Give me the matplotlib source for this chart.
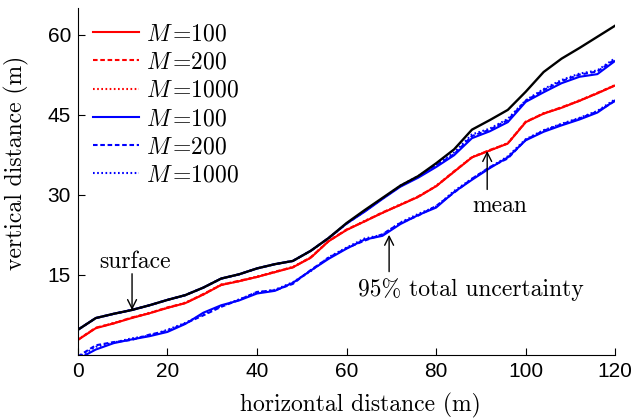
import numpy as np
import matplotlib
matplotlib.use("Agg")
import matplotlib.pyplot as plt

plt.rcParams['mathtext.fontset'] = 'cm'
plt.rcParams['axes.unicode_minus'] = False

# horizontal position (m)
x = [0, 4, 8, 12, 16, 20, 24, 28, 32, 36, 40, 44, 48, 52, 56, 60,
     64, 68, 72, 76, 80, 84, 88, 92, 96, 100, 104, 108, 112, 116, 120]

surface = [4.7, 6.9, 7.7, 8.4, 9.3, 10.3, 11.2, 12.6, 14.3, 15.1, 16.2, 17.0, 17.6, 19.5, 21.9, 24.7,
           27.1, 29.4, 31.7, 33.5, 35.9, 38.5, 42.2, 44.0, 45.9, 49.3, 53.0, 55.5, 57.5, 59.6, 61.7]

mean_100 = [2.8, 5.0, 5.9, 6.9, 7.8, 8.8, 9.7, 11.3, 13.1, 13.8, 14.6, 15.5, 16.4, 18.2, 21.3, 23.4,
            25.0, 26.6, 28.1, 29.6, 31.6, 34.3, 37.0, 38.3, 39.6, 43.6, 45.2, 46.3, 47.6, 49.0, 50.5]
mean_200 = [2.8, 5.1, 5.9, 7.0, 7.8, 8.9, 9.7, 11.4, 13.1, 13.9, 14.6, 15.6, 16.4, 18.3, 21.3, 23.5,
            25.0, 26.7, 28.1, 29.7, 31.6, 34.4, 37.0, 38.4, 39.6, 43.7, 45.2, 46.4, 47.6, 49.1, 50.5]
mean_1000 = [2.9, 5.0, 6.0, 6.9, 7.9, 8.8, 9.8, 11.3, 13.2, 13.8, 14.7, 15.5, 16.5, 18.2, 21.4, 23.4,
             25.1, 26.6, 28.2, 29.6, 31.7, 34.3, 37.1, 38.3, 39.7, 43.6, 45.3, 46.3, 47.7, 49.0, 50.6]

lower_100 = [-0.8, 1.0, 2.2, 2.9, 3.5, 4.3, 5.8, 7.9, 9.3, 10.2, 11.5, 12.0, 13.5, 15.8, 18.0, 19.9,
             21.6, 22.3, 24.5, 26.2, 27.6, 30.5, 32.8, 35.0, 37.0, 40.2, 41.8, 43.0, 44.1, 45.4, 47.7]
lower_200 = [-0.3, 1.8, 2.4, 2.8, 3.8, 4.5, 5.9, 7.4, 9.0, 10.3, 11.8, 12.1, 13.3, 15.9, 18.2, 20.0,
             21.4, 22.6, 24.7, 26.1, 27.9, 30.4, 33.0, 35.2, 36.8, 40.3, 42.0, 43.2, 44.3, 45.6, 47.6]
lower_1000 = [-0.5, 1.5, 2.3, 3.1, 3.6, 4.7, 6.0, 7.6, 9.1, 10.4, 11.7, 12.2, 13.6, 15.7, 18.3, 20.1,
              21.8, 22.5, 24.8, 26.4, 27.8, 30.7, 33.0, 35.1, 37.2, 40.4, 42.1, 43.3, 44.4, 45.7, 47.9]

upper_100 = [4.7, 6.9, 7.7, 8.4, 9.3, 10.3, 11.2, 12.6, 14.3, 15.1, 16.2, 17.0, 17.6, 19.5, 21.9, 24.6,
             26.8, 29.2, 31.5, 33.2, 35.2, 37.4, 40.6, 41.9, 43.6, 47.4, 49.2, 50.9, 52.1, 52.6, 55.1]
upper_200 = [4.7, 6.9, 7.7, 8.4, 9.3, 10.3, 11.2, 12.6, 14.3, 15.1, 16.2, 17.0, 17.6, 19.5, 21.9, 24.6,
             26.9, 29.3, 31.6, 33.4, 35.5, 37.6, 41.0, 42.2, 44.0, 47.6, 49.6, 51.3, 52.5, 53.1, 55.4]
upper_1000 = [4.7, 6.9, 7.7, 8.4, 9.3, 10.3, 11.2, 12.6, 14.3, 15.1, 16.2, 17.0, 17.6, 19.5, 21.9, 24.6,
              26.9, 29.3, 31.7, 33.5, 35.6, 37.9, 41.3, 42.4, 44.2, 47.7, 49.8, 51.5, 52.7, 53.3, 55.6]

etiquetas = [r'$M\,$=100', r'$M\,$=200', r'$M\,$=1000']
estilos = ['-', (0, (2.2, 1.3)), (0, (0.8, 1.2))]

fig = plt.figure(figsize=(6.33, 4.19), dpi=100)
ax = fig.add_axes([0.123, 0.153, 0.849, 0.828])

lw = 1.5
for y, ls, lab in zip([mean_100, mean_200, mean_1000], estilos, etiquetas):
    ax.plot(x, y, color='red', ls=ls, lw=lw, label=lab)
for y, ls, lab in zip([lower_100, lower_200, lower_1000], estilos, etiquetas):
    ax.plot(x, y, color='blue', ls=ls, lw=lw, label=lab)
for y, ls in zip([upper_100, upper_200, upper_1000], estilos):
    ax.plot(x, y, color='blue', ls=ls, lw=lw)
ax.plot(x, surface, color='black', lw=1.7)

ax.set_xlim(0, 120)
ax.set_ylim(0, 65)
ax.set_xticks([0, 20, 40, 60, 80, 100, 120])
ax.set_yticks([15, 30, 45, 60])
ax.spines['top'].set_visible(False)
ax.spines['right'].set_visible(False)
ax.tick_params(direction='in', length=5, labelsize=15, pad=5)
for t in ax.get_xticklabels() + ax.get_yticklabels():
    t.set_fontfamily('Liberation Sans')

ax.set_xlabel('horizontal distance (m)', family='cmr10', fontsize=17)
ax.set_ylabel('vertical distance (m)', family='cmr10', fontsize=17)
ax.xaxis.set_label_coords(0.525, -0.11)
ax.yaxis.set_label_coords(-0.09, 0.553)

flecha = dict(arrowstyle='->', color='black', lw=1.0, mutation_scale=16, shrinkA=0, shrinkB=0)
ax.text(12.7, 16.3, 'surface', family='cmr10', fontsize=17, ha='center', va='baseline')
ax.annotate('', xy=(12.1, 8.4), xytext=(12.1, 15.2), arrowprops=flecha)
ax.text(94.3, 26.7, 'mean', family='cmr10', fontsize=17, ha='center', va='baseline')
ax.annotate('', xy=(91.4, 38.2), xytext=(91.4, 31.0), arrowprops=flecha)
ax.text(87.8, 11.0, '95% total uncertainty', family='cmr10', fontsize=17, ha='center', va='baseline')
ax.annotate('', xy=(69.5, 22.5), xytext=(69.5, 15.6), arrowprops=flecha)

leg = ax.legend(loc='upper left', bbox_to_anchor=(0.0, 1.0), frameon=False,
                prop={'family': 'cmr10', 'size': 17}, handlelength=1.95,
                labelspacing=0.26, handletextpad=0.3, borderaxespad=0.25)

fig.savefig('out.png', dpi=100)
